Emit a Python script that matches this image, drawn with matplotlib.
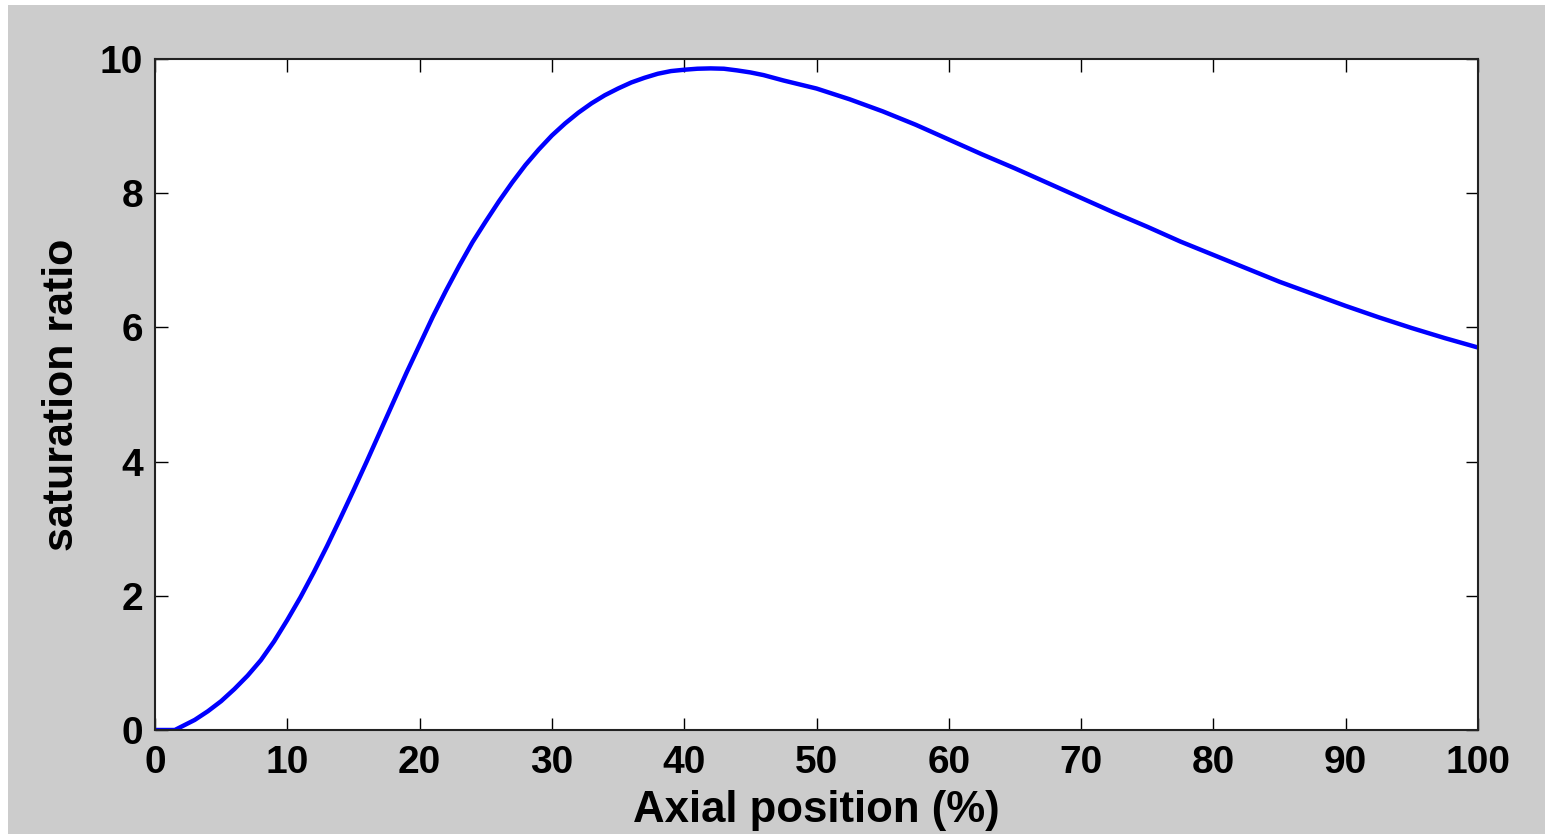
import matplotlib
matplotlib.use('Agg')
import matplotlib.pyplot as plt
from matplotlib.patches import Rectangle

# valeurs
axial_pos = [0, 1, 1.5, 2, 3, 4, 5, 6, 7, 8, 9, 10, 11, 12, 13, 14, 15, 16,
             17, 18, 19, 20, 21, 22, 23, 24, 25, 26, 27, 28, 29, 30, 31, 32,
             33, 34, 35, 36, 37, 38, 39, 40, 41, 42, 43, 44, 45, 46, 47.5,
             50, 52.5, 55, 57.5, 60, 62.5, 65, 67.5, 70, 72.5, 75, 77.5, 80,
             82.5, 85, 87.5, 90, 92.5, 95, 97.5, 100]
sat_ratio = [0.0, 0.0, 0.0, 0.05, 0.15, 0.28, 0.43, 0.61, 0.81, 1.04, 1.32,
             1.64, 1.98, 2.35, 2.74, 3.15, 3.57, 4.0, 4.44, 4.88, 5.32, 5.74,
             6.16, 6.55, 6.92, 7.27, 7.58, 7.88, 8.16, 8.42, 8.65, 8.86, 9.04,
             9.2, 9.34, 9.46, 9.56, 9.65, 9.72, 9.78, 9.82, 9.84, 9.855, 9.86,
             9.855, 9.83, 9.8, 9.76, 9.68, 9.56, 9.4, 9.22, 9.02, 8.8, 8.58,
             8.37, 8.15, 7.93, 7.71, 7.5, 7.28, 7.08, 6.88, 6.68, 6.5, 6.32,
             6.15, 5.99, 5.84, 5.70]
x_ticks = [0, 10, 20, 30, 40, 50, 60, 70, 80, 90, 100]
y_ticks = [0, 2, 4, 6, 8, 10]

plt.rcParams['font.family'] = ['Liberation Sans', 'DejaVu Sans']
plt.rcParams['font.weight'] = 'bold'

fig = plt.figure(figsize=(15.45, 8.34), dpi=100)
fig.patch.set_facecolor('white')
# fond gris style MATLAB
fig.patches.append(Rectangle((8 / 1545, 0), 1, 1 - 5 / 834, transform=fig.transFigure,
                             facecolor='#cccccc', edgecolor='none', zorder=-10))

ax = fig.add_axes([155 / 1545, 104 / 834, 1323 / 1545, 671 / 834])
ax.set_facecolor('white')
ax.plot(axial_pos, sat_ratio, color='#0000ff', linewidth=3.2)

ax.set_xlim(0, 100)
ax.set_ylim(0, 10)
ax.set_xticks(x_ticks)
ax.set_yticks(y_ticks)
ax.tick_params(direction='in', length=9, width=1, top=True, right=True,
               labelsize=28, colors='black')
ax.tick_params(axis='x', pad=11)
ax.tick_params(axis='y', pad=8.5)
for sp in ax.spines.values():
    sp.set_linewidth(1.5)
    sp.set_color('#222222')

ax.set_xlabel('Axial position (%)', fontsize=31.5, fontweight='bold', labelpad=6)
ax.set_ylabel('saturation ratio', fontsize=31, fontweight='bold', labelpad=13)

fig.savefig('out.png', dpi=100)
